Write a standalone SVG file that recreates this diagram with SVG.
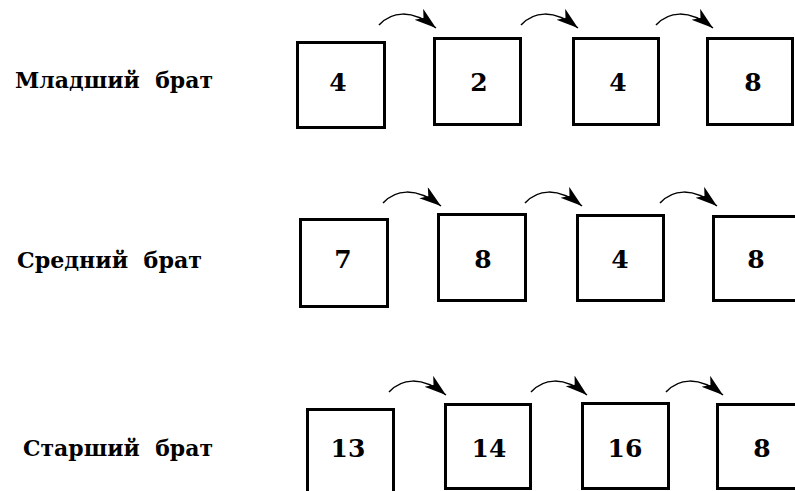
<svg xmlns="http://www.w3.org/2000/svg" width="795" height="491" viewBox="0 0 795 491">
<style>
.box{fill:#fff;stroke:#000;stroke-width:3}
.num{font-family:"DejaVu Serif",serif;font-weight:bold;font-size:25px;text-anchor:middle;fill:#000}
.lbl{font-family:"DejaVu Serif",serif;font-weight:bold;font-size:22px;fill:#000;white-space:pre}
.arr{fill:none;stroke:#000;stroke-width:1.5;marker-end:url(#ah)}
</style>
<defs>
<marker id="ah" markerUnits="userSpaceOnUse" markerWidth="24" markerHeight="16" refX="22" refY="7" orient="auto" viewBox="0 0 24 16">
<path d="M0,0 L22,7 L0,14 L6,7 Z" fill="#000"/>
</marker>
</defs>
<rect width="795" height="491" fill="#fff"/>
<g id="labels">
<text class="lbl" x="15" y="88" textLength="198" lengthAdjust="spacingAndGlyphs" xml:space="preserve">Младший  брат</text>
<text class="lbl" x="17" y="268" textLength="185" lengthAdjust="spacingAndGlyphs" xml:space="preserve">Средний  брат</text>
<text class="lbl" x="23" y="456" textLength="190" lengthAdjust="spacingAndGlyphs" xml:space="preserve">Старший  брат</text>
</g>
<g id="row1">
<g id="r1b1"><rect class="box" x="297.5" y="42.5" width="87" height="85"/><text class="num" x="338" y="91">4</text></g>
<g id="r1b2"><rect class="box" x="434.5" y="38.5" width="86" height="86"/><text class="num" x="479" y="91">2</text></g>
<g id="r1b3"><rect class="box" x="573.5" y="38.5" width="85" height="86"/><text class="num" x="618" y="91">4</text></g>
<g id="r1b4"><rect class="box" x="707.5" y="38.5" width="85" height="86"/><text class="num" x="753" y="91">8</text></g>
</g>
<g id="row2">
<g id="r2b1"><rect class="box" x="300.5" y="219.5" width="87" height="87"/><text class="num" x="343" y="268">7</text></g>
<g id="r2b2"><rect class="box" x="438.5" y="214.5" width="87" height="86"/><text class="num" x="483" y="268">8</text></g>
<g id="r2b3"><rect class="box" x="577.5" y="215.5" width="86" height="85"/><text class="num" x="620" y="268">4</text></g>
<g id="r2b4"><rect class="box" x="713.5" y="216.5" width="100" height="84"/><text class="num" x="756" y="268">8</text></g>
</g>
<g id="row3">
<g id="r3b1"><rect class="box" x="307.5" y="409.5" width="86" height="100"/><text class="num" x="348" y="457">13</text></g>
<g id="r3b2"><rect class="box" x="445.5" y="404.5" width="85" height="84"/><text class="num" x="489" y="457">14</text></g>
<g id="r3b3"><rect class="box" x="582.5" y="403.5" width="86" height="85"/><text class="num" x="625" y="457">16</text></g>
<g id="r3b4"><rect class="box" x="717.5" y="404.5" width="100" height="84"/><text class="num" x="762" y="457">8</text></g>
</g>
<g id="connectors">
<path class="arr" d="M379,25 c12,-13 32,-17 57,3"/>
<path class="arr" d="M521,25 c12,-13 32,-17 57,3"/>
<path class="arr" d="M656,25 c12,-13 32,-17 57,3"/>
<path class="arr" d="M383,203 c12,-13 32,-17 58,3"/>
<path class="arr" d="M525,203 c12,-13 32,-17 57,3"/>
<path class="arr" d="M660,203 c12,-13 32,-17 57,3"/>
<path class="arr" d="M389,392 c12,-13 32,-17 57,3"/>
<path class="arr" d="M531,392 c12,-13 32,-17 56,3"/>
<path class="arr" d="M666,392 c12,-13 32,-17 57,3"/>
</g>
</svg>
